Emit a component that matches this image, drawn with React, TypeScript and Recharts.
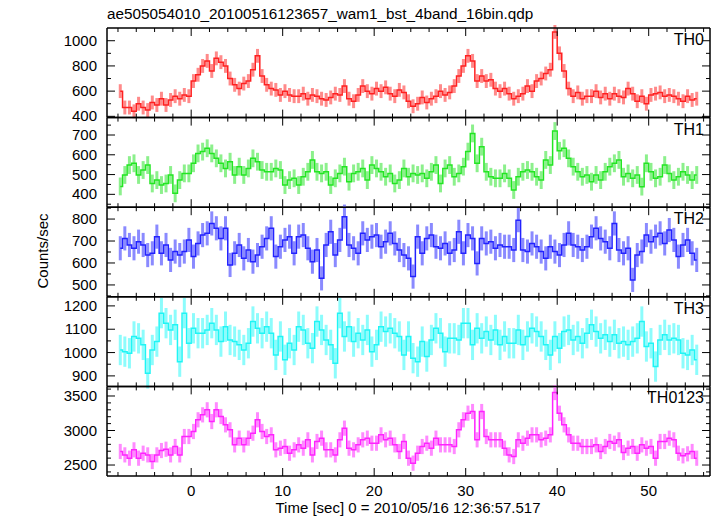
import React from 'react';
import { LineChart, Line, XAxis, YAxis, ErrorBar } from 'recharts';

const W = 717;
const H = 516;
const PLOT_L = 107;
const PLOT_R = 710;
const PANEL_TOP = 28;
const PANEL_H = 89.6;
const FONT = '"Liberation Sans", Arial, Helvetica, sans-serif';

// bin centres: first bin at -7.75 s, 0.5 s wide
const T0 = -7.75;
const BIN = 0.5;

const TH0 = [
  600, 470, 470, 440, 500, 470, 450, 510, 490, 540, 490, 530, 560, 540, 570, 560,
  680, 730, 800, 840, 760, 860, 830, 800, 700, 650, 620, 660, 680, 770, 880, 720,
  650, 620, 610, 570, 600, 570, 560, 560, 580, 540, 570, 560, 540, 530, 550, 580,
  570, 640, 540, 520, 570, 640, 600, 580, 620, 600, 630, 580, 560, 610, 590, 520,
  480, 500, 550, 510, 540, 560, 600, 570, 590, 640, 720, 800, 880, 840, 680, 720,
  680, 690, 620, 600, 620, 580, 540, 560, 580, 640, 600, 680, 700, 740, 770, 1070,
  900, 760, 620, 560, 590, 540, 560, 560, 600, 550, 580, 540, 580, 560, 550, 620,
  580, 520, 560, 500, 570, 580, 590, 560, 570, 560, 540, 520, 560, 530, 540,
];

const TH1 = [
  440, 498, 548, 557, 498, 523, 548, 455, 472, 447, 455, 498, 405, 472, 506, 506,
  557, 607, 616, 633, 607, 582, 557, 531, 565, 498, 540, 498, 531, 582, 565, 523,
  514, 514, 531, 523, 447, 472, 481, 447, 489, 514, 574, 514, 506, 514, 447, 481,
  506, 540, 464, 506, 514, 531, 472, 548, 531, 514, 489, 506, 455, 472, 531, 489,
  506, 498, 506, 481, 514, 548, 455, 531, 548, 489, 506, 540, 616, 708, 557, 641,
  514, 489, 481, 481, 506, 481, 422, 489, 514, 523, 514, 489, 472, 574, 548, 720,
  620, 633, 582, 540, 514, 489, 498, 464, 498, 472, 514, 540, 557, 574, 489, 506,
  481, 498, 439, 557, 514, 481, 489, 548, 506, 472, 489, 514, 498, 472, 498,
];

const TH2 = [
  667, 712, 682, 667, 697, 682, 636, 644, 720, 644, 682, 614, 652, 636, 652, 705,
  629, 689, 727, 735, 780, 758, 712, 758, 591, 644, 682, 621, 659, 606, 636, 674,
  712, 758, 629, 674, 705, 720, 644, 720, 727, 667, 606, 659, 530, 682, 742, 636,
  705, 811, 682, 667, 644, 735, 705, 720, 727, 674, 697, 735, 689, 659, 636, 621,
  538, 720, 644, 712, 727, 674, 667, 689, 644, 659, 742, 644, 727, 712, 598, 712,
  689, 697, 667, 682, 674, 674, 659, 795, 659, 652, 689, 674, 652, 621, 674, 652,
  636, 682, 735, 682, 674, 659, 674, 720, 758, 712, 697, 667, 780, 659, 644, 667,
  523, 636, 652, 727, 697, 720, 735, 689, 750, 705, 629, 682, 705, 644, 614,
];

const TH3 = [
  1011, 1004, 997, 1069, 1061, 1033, 911, 1011, 1047, 1169, 1126, 1097, 1119, 961, 1169, 1040,
  1104, 1083, 1083, 1097, 1126, 1097, 1047, 1111, 1054, 1047, 1033, 1011, 1040, 1133, 1104, 1083,
  1111, 1083, 990, 1069, 969, 1040, 1011, 1111, 1097, 1040, 1019, 1133, 1097, 1054, 1033, 954,
  1169, 1069, 1111, 1047, 1083, 1054, 1097, 1004, 1033, 1111, 1090, 1104, 1083, 1069, 990, 1069,
  976, 961, 1047, 983, 1054, 1104, 1083, 1004, 1061, 1061, 1054, 1126, 1126, 1033, 1104, 1061,
  1090, 1054, 1097, 1033, 1069, 1040, 1040, 1097, 1033, 1069, 1104, 1090, 1069, 1033, 990, 1069,
  1019, 1090, 1097, 1054, 1069, 1040, 1083, 1119, 1090, 1061, 1076, 1047, 1076, 1040, 1047, 1033,
  1047, 1061, 1133, 1026, 1040, 940, 1054, 1076, 1054, 1061, 1054, 997, 990, 1011, 969,
];

const TH0123 = [
  2696, 2647, 2599, 2720, 2599, 2671, 2647, 2551, 2647, 2710, 2729, 2647, 2768, 2647, 2913, 2913,
  2986, 3155, 3227, 3300, 3130, 3300, 3203, 3082, 3010, 2792, 2889, 2792, 2889, 2961, 3155, 2986,
  2913, 2937, 2720, 2744, 2768, 2671, 2720, 2792, 2744, 2865, 2647, 2841, 2889, 2720, 2720, 2647,
  2865, 3034, 2744, 2720, 2792, 2865, 2889, 2816, 2816, 2937, 2865, 2889, 2792, 2696, 2841, 2599,
  2527, 2671, 2768, 2816, 2744, 2889, 2792, 2792, 2792, 2768, 3010, 3155, 3251, 3275, 2865, 3275,
  2913, 2865, 2865, 2865, 2744, 2647, 2623, 2865, 2816, 2889, 2937, 2937, 2865, 2889, 2937, 3550,
  3250, 3082, 2937, 2816, 2816, 2768, 2768, 2768, 2792, 2696, 2768, 2841, 2816, 2865, 2681, 2744,
  2768, 2671, 2792, 2744, 2768, 2599, 2841, 2841, 2889, 2865, 2671, 2633, 2662, 2696, 2599,
];

// typical 1-sigma error per band
const ERRORS = [55, 45, 55, 65, 110];

const X_DOMAIN = [-9.2, 56.7];
const X_TICKS = [-8, -6, -4, -2, 0, 2, 4, 6, 8, 10, 12, 14, 16, 18, 20, 22, 24, 26, 28, 30,
  32, 34, 36, 38, 40, 42, 44, 46, 48, 50, 52, 54, 56];

const PANELS = [
  { name: 'TH0', values: TH0, err: ERRORS[0], color: '#ff2020', light: '#ff8a8a',
    domain: [390, 1101], ticks: [400, 500, 600, 700, 800, 900, 1000], major: 200 },
  { name: 'TH1', values: TH1, err: ERRORS[1], color: '#22e622', light: '#8cf08c',
    domain: [335, 788], ticks: [350, 400, 450, 500, 550, 600, 650, 700, 750], major: 100 },
  { name: 'TH2', values: TH2, err: ERRORS[2], color: '#2222ff', light: '#8a8aff',
    domain: [446, 854], ticks: [450, 500, 550, 600, 650, 700, 750, 800, 850], major: 100 },
  { name: 'TH3', values: TH3, err: ERRORS[3], color: '#1ff5f5', light: '#8cfcfc',
    domain: [855, 1239], ticks: [900, 950, 1000, 1050, 1100, 1150, 1200], major: 100 },
  { name: 'TH0123', values: TH0123, err: ERRORS[4], color: '#ff22ff', light: '#ff8aff',
    domain: [2341, 3639], ticks: [2400, 2500, 2600, 2700, 2800, 2900, 3000, 3100, 3200, 3300, 3400, 3500, 3600], major: 500 },
];

const isMajor = (v: number, step: number) => Math.abs(v / step - Math.round(v / step)) < 1e-6;

const xTick = (edge: number, dir: number, withLabel: boolean) => (props: any) => {
  const x = props.payload.coordinate;
  const v = props.payload.value;
  const major = isMajor(v, 10);
  return (
    <g>
      <line x1={x} x2={x} y1={edge} y2={edge + dir * (major ? 8 : 4)} stroke="#000" strokeWidth={1} />
      {withLabel && major && (
        <text x={x} y={edge + 20} textAnchor="middle" fontSize={15} fontFamily={FONT} fill="#000">
          {v}
        </text>
      )}
    </g>
  );
};

const yTick = (edge: number, dir: number, step: number, withLabel: boolean) => (props: any) => {
  const y = props.payload.coordinate;
  const v = props.payload.value;
  const major = isMajor(v, step);
  return (
    <g>
      <line x1={edge} x2={edge + dir * (major ? 8 : 4)} y1={y} y2={y} stroke="#000" strokeWidth={1} />
      {withLabel && major && (
        <text x={edge - 10} y={y + 5} textAnchor="end" fontSize={15} fontFamily={FONT} fill="#000">
          {v}
        </text>
      )}
    </g>
  );
};

const frame = { stroke: '#000', strokeWidth: 1.5 };

function Panel({ p, index }: { p: any; index: number }) {
  const top = PANEL_TOP + index * PANEL_H;
  const bottom = top + PANEL_H;
  const last = index === PANELS.length - 1;
  const data = p.values.map((v: number, i: number) => ({ t: T0 + i * BIN, v, e: p.err }));

  // axes are 1px thick (a zero-sized axis is not drawn), so margins are 1px smaller
  return (
    <div style={{ position: 'absolute', left: 0, top: 0 }}>
      <LineChart
        width={W}
        height={H}
        data={data}
        margin={{ top: top - 1, bottom: H - bottom - 1, left: PLOT_L - 1, right: W - PLOT_R - 1 }}
      >
        <XAxis xAxisId="b" dataKey="t" type="number" domain={X_DOMAIN} allowDataOverflow
          ticks={X_TICKS} interval={0} orientation="bottom" height={1}
          axisLine={frame} tickLine={false} tick={xTick(bottom, -1, last)} />
        <XAxis xAxisId="t" dataKey="t" type="number" domain={X_DOMAIN} allowDataOverflow
          ticks={X_TICKS} interval={0} orientation="top" height={1}
          axisLine={frame} tickLine={false} tick={xTick(top, 1, false)} />
        <YAxis yAxisId="l" type="number" domain={p.domain} allowDataOverflow
          ticks={p.ticks} interval={0} width={1}
          axisLine={frame} tickLine={false} tick={yTick(PLOT_L, 1, p.major, true)} />
        <YAxis yAxisId="r" orientation="right" type="number" domain={p.domain} allowDataOverflow
          ticks={p.ticks} interval={0} width={1}
          axisLine={frame} tickLine={false} tick={yTick(PLOT_R, -1, p.major, false)} />
        <Line xAxisId="b" yAxisId="l" dataKey="v" type="step" stroke={p.color}
          strokeWidth={1.5} dot={false} isAnimationActive={false}>
          <ErrorBar dataKey="e" width={0} stroke={p.light} strokeWidth={3}
            direction="y" isAnimationActive={false} />
        </Line>
      </LineChart>
    </div>
  );
}

export default function App() {
  return (
    <div style={{ position: 'absolute', left: 0, top: 0, width: W, height: H, background: '#fff' }}>
      {PANELS.map((p, i) => (
        <Panel key={p.name} p={p} index={i} />
      ))}
      <svg width={W} height={H} style={{ position: 'absolute', left: 0, top: 0, pointerEvents: 'none' }}>
        <text x={107} y={19} fontSize={15.3} fontFamily={FONT} fill="#000">
          ae505054010_20100516123657_wam1_bst_4band_16bin.qdp
        </text>
        <text x={48} y={251} fontSize={15} fontFamily={FONT} fill="#000" textAnchor="middle"
          transform="rotate(-90 48 251)">
          Counts/sec
        </text>
        <text x={408} y={513} fontSize={15} fontFamily={FONT} fill="#000" textAnchor="middle">
          Time [sec] 0 = 2010/05/16 12:36:57.517
        </text>
        {PANELS.map((p, i) => (
          <text key={p.name} x={704} y={PANEL_TOP + i * PANEL_H + 17} fontSize={16}
            fontFamily={FONT} fill="#000" textAnchor="end">
            {p.name}
          </text>
        ))}
      </svg>
    </div>
  );
}
